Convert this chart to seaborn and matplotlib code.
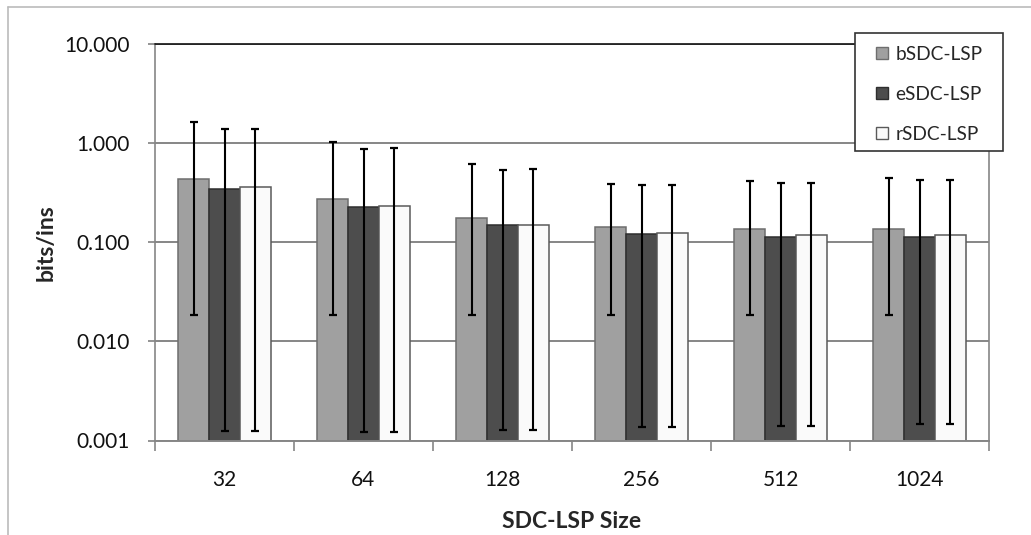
import numpy as np
import pandas as pd
import matplotlib
matplotlib.use("Agg")
import matplotlib.pyplot as plt
import seaborn as sns
from matplotlib.lines import Line2D
from matplotlib.patches import Rectangle
from matplotlib.container import BarContainer

sizes = ["32", "64", "128", "256", "512", "1024"]
series = ["bSDC-LSP", "eSDC-LSP", "rSDC-LSP"]

b_mean = [0.430, 0.276, 0.177, 0.144, 0.137, 0.137]
e_mean = [0.348, 0.229, 0.148, 0.120, 0.114, 0.114]
r_mean = [0.360, 0.234, 0.150, 0.123, 0.117, 0.117]

b_hi = [1.62, 1.02, 0.62, 0.386, 0.413, 0.447]
e_hi = [1.38, 0.87, 0.54, 0.374, 0.400, 0.420]
r_hi = [1.38, 0.89, 0.55, 0.374, 0.400, 0.420]

b_lo = [0.0186, 0.0186, 0.0186, 0.0186, 0.0186, 0.0186]
e_lo = [0.00126, 0.00123, 0.00129, 0.00136, 0.00139, 0.00146]
r_lo = [0.00126, 0.00123, 0.00129, 0.00136, 0.00139, 0.00146]

colors = ["#A0A0A0", "#4D4D4D", "#FAFAFA"]
edges = ["#6E6E6E", "#2E2E2E", "#5A5A5A"]

sns.set_theme(style="white")
plt.rcParams["font.family"] = ["Lato", "DejaVu Sans"]

df = pd.DataFrame({
    "size": sizes * 3,
    "series": [s for s in series for _ in sizes],
    "value": b_mean + e_mean + r_mean,
})
means = {"bSDC-LSP": b_mean, "eSDC-LSP": e_mean, "rSDC-LSP": r_mean}
los = {"bSDC-LSP": b_lo, "eSDC-LSP": e_lo, "rSDC-LSP": r_lo}
his = {"bSDC-LSP": b_hi, "eSDC-LSP": e_hi, "rSDC-LSP": r_hi}

W, H = 1031, 535
L, R, T, B = 155, 989, 44, 440.5
fig = plt.figure(figsize=(W / 100, H / 100), dpi=100)
ax = fig.add_axes([L / W, 1 - B / H, (R - L) / W, (B - T) / H])

def ax_x(px):
    return (px - L) / (R - L)

def ax_y(py):
    return (B - py) / (B - T)

sns.barplot(data=df, x="size", y="value", hue="series", order=sizes,
            hue_order=series, palette=colors, width=0.667, errorbar=None,
            dodge=True, saturation=1, ax=ax, legend=False, zorder=2)

ax.set_yscale("log")
ax.set_ylim(0.001, 10)
ax.set_xlim(-0.5, len(sizes) - 0.5)

bar_containers = [c for c in ax.containers if isinstance(c, BarContainer)]
for k, container in enumerate(bar_containers):
    name = series[k]
    for j, patch in enumerate(container):
        if patch is None:
            continue
        patch.set_edgecolor(edges[k])
        patch.set_linewidth(1.1)
        cx = patch.get_x() + patch.get_width() / 2
        v = means[name][j]
        ax.errorbar(cx, v, yerr=[[v - los[name][j]], [his[name][j] - v]],
                    fmt="none", ecolor="black", elinewidth=1.5, capsize=2.8,
                    capthick=1.6, zorder=3)

yt = [0.001, 0.01, 0.1, 1, 10]
ax.set_yticks(yt)
ax.set_yticklabels(["0.001", "0.010", "0.100", "1.000", "10.000"])
ax.yaxis.set_minor_locator(matplotlib.ticker.NullLocator())
ax.grid(axis="y", which="major", color="#868686", linewidth=1.4, zorder=0)
ax.set_axisbelow(True)

for s in ["top", "right"]:
    ax.spines[s].set_visible(False)
ax.spines["left"].set_color("#868686")
ax.spines["bottom"].set_color("#868686")
ax.spines["left"].set_linewidth(1.2)
ax.spines["bottom"].set_linewidth(1.4)
ax.axhline(10, color="#111111", linewidth=1.2, zorder=4, clip_on=False)
ax.plot([1, 1], [0, 1], transform=ax.transAxes, color="#868686", lw=1.2, clip_on=False)

ax.tick_params(axis="y", which="major", left=True, length=5, color="#868686",
               labelsize=15, pad=13, labelcolor="#111111")
ax.set_xticks(np.arange(len(sizes)))
ax.set_xticklabels(sizes)
ax.tick_params(axis="x", which="major", bottom=False, labelsize=15, pad=15,
               labelcolor="#111111")
ax.set_xticks(np.arange(-0.5, len(sizes), 1.0), minor=True)
ax.tick_params(axis="x", which="minor", bottom=True, length=7, color="#868686", width=1.2)

ax.set_xlabel("SDC-LSP Size", fontsize=16.5, fontweight="bold", labelpad=15)
ax.set_ylabel("bits/ins", fontsize=16.5, fontweight="bold", labelpad=6)

ax.add_patch(Rectangle((ax_x(855), ax_y(151)), (1003 - 855) / (R - L), (151 - 33) / (B - T),
                       transform=ax.transAxes, facecolor="white", edgecolor="#333333",
                       linewidth=1.2, clip_on=False, zorder=8))
leg = ax.legend(handles=[Rectangle((0, 0), 1, 1, facecolor=colors[i], edgecolor=edges[i])
                         for i in range(3)],
                labels=series, loc="upper left",
                bbox_to_anchor=(ax_x(876), ax_y(46)),
                frameon=False, fontsize=13.8, labelspacing=1.2,
                handlelength=0.62, handleheight=0.62, handletextpad=0.4,
                borderpad=0, borderaxespad=0)
leg.set_zorder(10)

fig.add_artist(Line2D([8 / W, 1], [1 - 7 / H, 1 - 7 / H], color="#BBBBBB", lw=1.2))
fig.add_artist(Line2D([8 / W, 8 / W], [0, 1 - 7 / H], color="#BBBBBB", lw=1.2))

fig.savefig("out.png", dpi=100)
